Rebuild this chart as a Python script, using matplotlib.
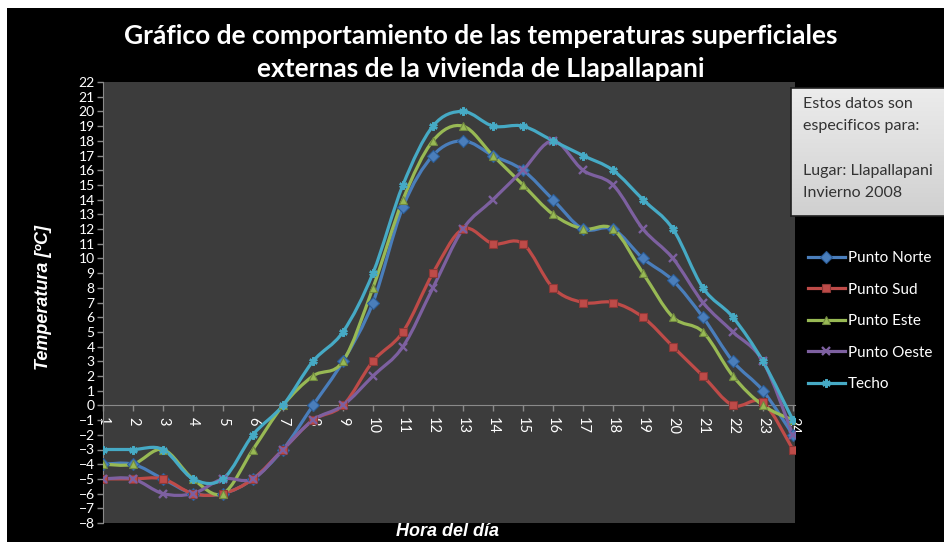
import numpy as np
import matplotlib.pyplot as plt
from matplotlib.path import Path
from matplotlib.patches import PathPatch, Rectangle
from matplotlib.lines import Line2D
from matplotlib.colors import LinearSegmentedColormap

# data
horas = list(range(1, 25))
norte = [-4, -4, -5, -6, -6, -5, -3, 0, 3, 7, 13.5, 17, 18, 17, 16, 14, 12, 12, 10, 8.5, 6, 3, 1, -2]
sud = [-5, -5, -5, -6, -6, -5, -3, -1, 0, 3, 5, 9, 12, 11, 11, 8, 7, 7, 6, 4, 2, 0, 0.2, -3]
este = [-4, -4, -3, -5, -6, -3, 0, 2, 3, 8, 14, 18, 19, 17, 15, 13, 12, 12, 9, 6, 5, 2, 0, -1]
oeste = [-5, -5, -6, -6, -5, -5, -3, -1, 0, 2, 4, 8, 12, 14, 16, 18, 16, 15, 12, 10, 7, 5, 3, -2]
techo = [-3, -3, -3, -5, -5, -2, 0, 3, 5, 9, 15, 19, 20, 19, 19, 18, 17, 16, 14, 12, 8, 6, 3, -1]

nombres = ["Punto Norte", "Punto Sud", "Punto Este", "Punto Oeste", "Techo"]
series = [norte, sud, este, oeste, techo]
colores = ["#4a7ebb", "#be4b48", "#98b954", "#7d60a0", "#46aac5"]
bordes = ["#2c5d98", "#8c3836", "#71893f", "#5c4776", "#31849b"]
marcas = ["D", "s", "^", "x", (6, 2, 0)]


def curva(x, y):
    # smoothed line like excel (catmull-rom as cubic bezier)
    p = np.column_stack([x, y]).astype(float)
    ext = np.vstack([p[0], p, p[-1]])
    verts = [p[0]]
    codes = [Path.MOVETO]
    for i in range(len(p) - 1):
        p0, p1, p2, p3 = ext[i], ext[i + 1], ext[i + 2], ext[i + 3]
        verts += [p1 + (p2 - p0) / 6, p2 - (p3 - p1) / 6, p2]
        codes += [Path.CURVE4] * 3
    return Path(verts, codes)


def estilo(m, b, c):
    cruz = m in ("x", (6, 2, 0))
    return dict(marker=m, ms=6, mec=c if cruz else b, mew=1.7 if cruz else 0.8)


fig = plt.figure(figsize=(9.44, 5.42), dpi=100, facecolor="white")
fig.patches.append(Rectangle((7 / 944, 0), 1, 1 - 8 / 542, transform=fig.transFigure,
                             facecolor="black", edgecolor="none", zorder=-10))

ax = fig.add_axes([103 / 944, 1 - 523 / 542, (795 - 103) / 944, (523 - 82) / 542])
ax.set_facecolor("#3c3c3c")

for vals, c, b, m in zip(series, colores, bordes, marcas):
    ax.add_patch(PathPatch(curva(horas, vals), facecolor="none", edgecolor=c, lw=2.3,
                           capstyle="round", joinstyle="round", zorder=3))
    ax.plot(horas, vals, linestyle="none", color=c, zorder=4, **estilo(m, b, c))

ax.set_xlim(1, 24.07)
ax.set_ylim(-8, 22)
ax.set_yticks(range(-8, 23))
ax.set_xticks(horas)

for s in ["top", "right"]:
    ax.spines[s].set_visible(False)
ax.spines["bottom"].set_position(("data", 0))
ax.spines["bottom"].set_color("#8a8a8a")
ax.spines["left"].set_color("#8a8a8a")
ax.spines["bottom"].set_zorder(2)
ax.tick_params(axis="both", colors="#8a8a8a", length=4, width=1, direction="out")
ax.tick_params(axis="y", labelcolor="white", labelsize=10, pad=2)
ax.tick_params(axis="x", labelcolor="white", labelsize=10.5, pad=4, labelrotation=-90)
for t in ax.get_yticklabels() + ax.get_xticklabels():
    t.set_family("Lato")

# titles
fig.text(481 / 944, 1 - 36 / 542, "Gráfico de comportamiento de las temperaturas superficiales",
         ha="center", va="center", color="white", fontsize=19, fontweight="bold", family="Lato")
fig.text(481 / 944, 1 - 69 / 542, "externas de la vivienda de Llapallapani",
         ha="center", va="center", color="white", fontsize=19, fontweight="bold", family="Lato")
fig.text(44 / 944, 1 - 297 / 542, "Temperatura [ºC]", rotation=90, ha="center", va="center",
         color="white", fontsize=13, fontweight="bold", style="italic", family="Liberation Sans")
fig.text(448 / 944, 1 - 532 / 542, "Hora del día", ha="center", va="center",
         color="white", fontsize=13, fontweight="bold", style="italic", family="Liberation Sans")

# info box
bx = fig.add_axes([791 / 944, 1 - 216 / 542, (944 - 791) / 944 + 0.01, (216 - 88) / 542])
grad = np.linspace(0, 1, 100).reshape(-1, 1)
bx.imshow(grad, cmap=LinearSegmentedColormap.from_list("g", ["#ececec", "#d0d0d0"]),
          aspect="auto", extent=[0, 1, 0, 1], origin="upper")
bx.set_xticks([])
bx.set_yticks([])
for s in bx.spines.values():
    s.set_color("#202020")
    s.set_linewidth(1.2)
info = ["Estos datos son", "especificos para:", "", "Lugar: Llapallapani", "Invierno 2008"]
for i, linea in enumerate(info):
    fig.text(803 / 944, 1 - (104 + 22.3 * i) / 542, linea, ha="left", va="center",
             color="#333333", fontsize=11.5, family="Lato")

# legend
handles = [Line2D([], [], color=c, lw=2.3, **estilo(m, b, c))
           for c, b, m in zip(colores, bordes, marcas)]
leg = fig.legend(handles, nombres, loc="upper left", bbox_to_anchor=(808 / 944, 1 - 251 / 542),
                 frameon=False, labelcolor="white", handlelength=2.4,
                 handletextpad=0.2, labelspacing=1.15, borderpad=0, borderaxespad=0,
                 prop={"family": "Lato", "size": 11})

fig.savefig("out.png", dpi=100, facecolor=fig.get_facecolor())
